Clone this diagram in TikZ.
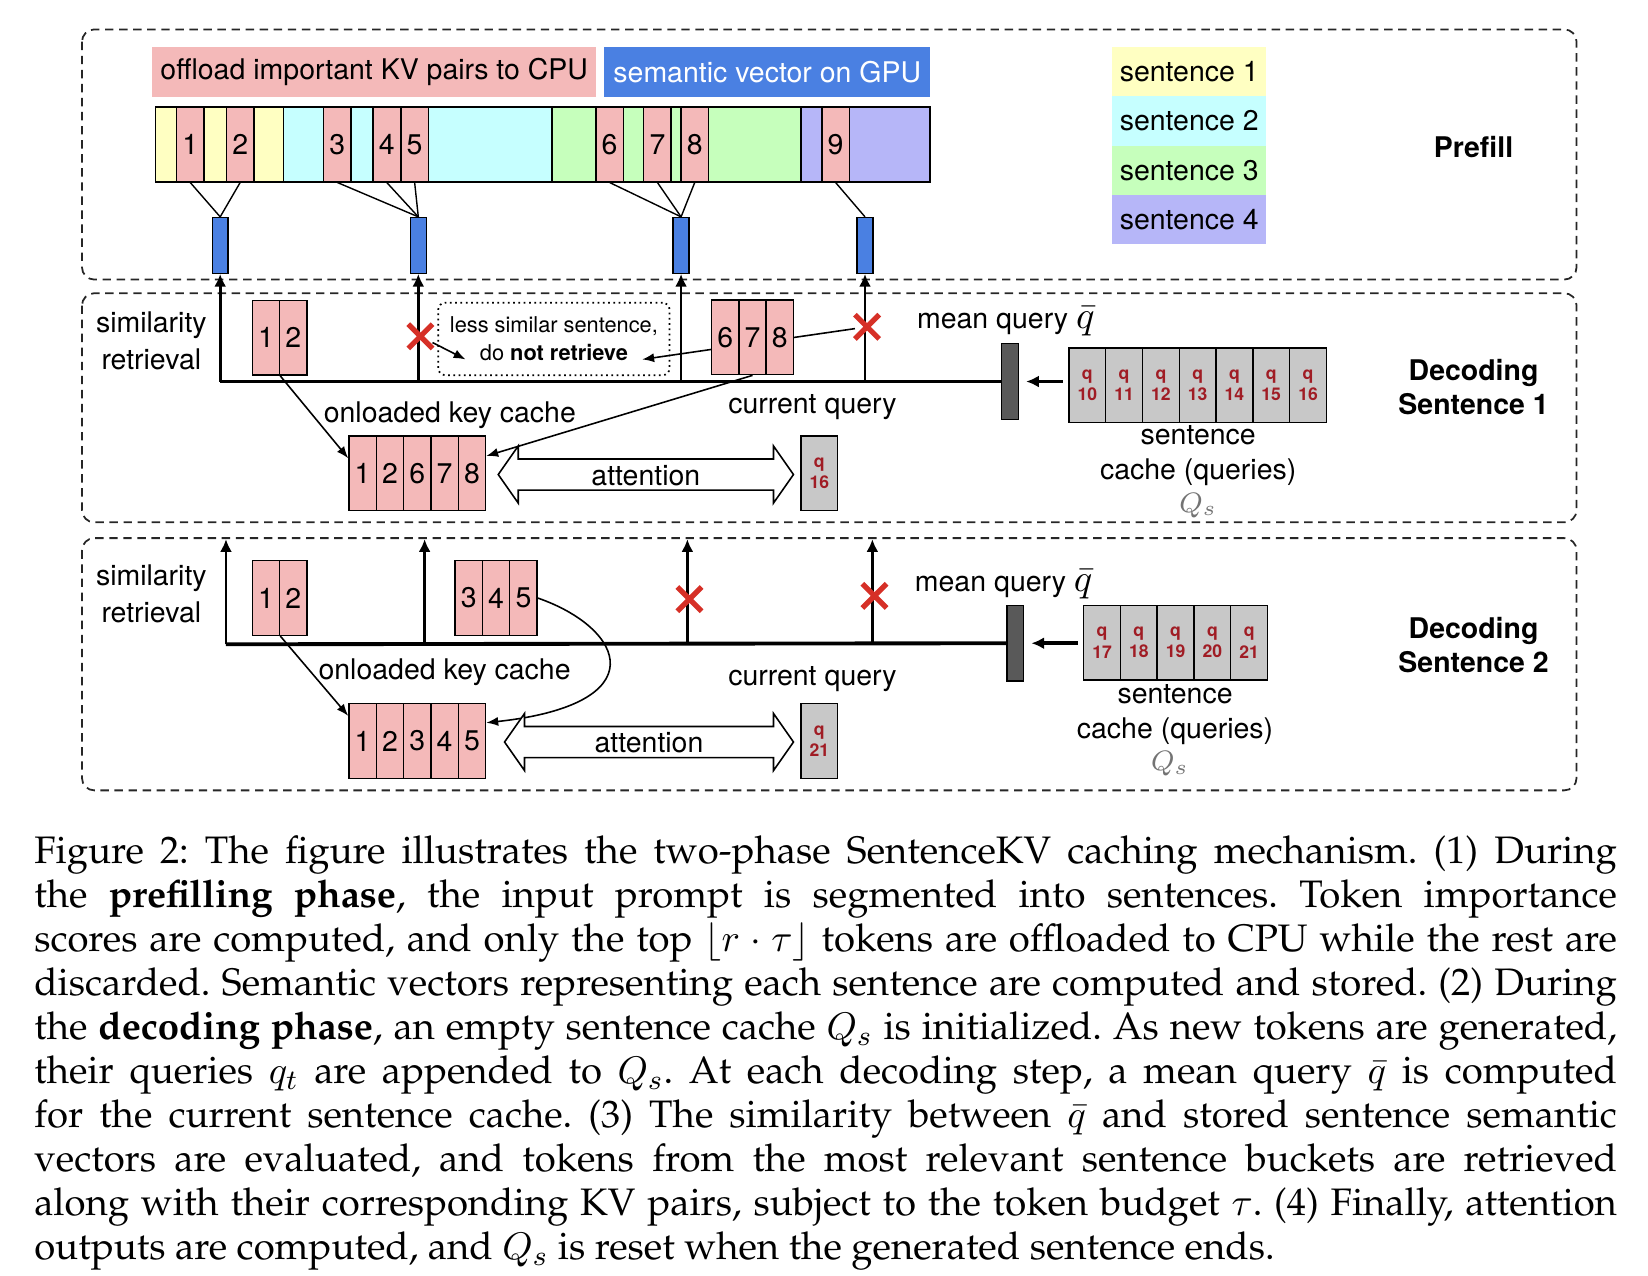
\documentclass[tikz,border=0pt]{standalone}
\usepackage[T1]{fontenc}
\usepackage{fontspec}
\setsansfont{TeX Gyre Heros}
\usepackage{amsmath}
\usepackage{tikz}
\usetikzlibrary{positioning, arrows.meta, calc, shapes.arrows, shapes.misc}

\definecolor{kvpink}{RGB}{244,185,185}
\definecolor{sentA}{RGB}{255,255,194}
\definecolor{sentB}{RGB}{198,255,255}
\definecolor{sentC}{RGB}{198,255,188}
\definecolor{sentD}{RGB}{182,182,248}
\definecolor{gpublue}{RGB}{74,128,226}
\definecolor{qgray}{RGB}{200,200,200}
\definecolor{qred}{RGB}{160,28,36}
\definecolor{xred}{RGB}{214,48,39}

\newcommand{\lblfont}{\fontsize{8.1}{9.8}\selectfont\sffamily}
\newcommand{\capfont}{\fontencoding{T1}\fontfamily{ppl}\fontsize{10.9}{12.5}\selectfont\frenchspacing\hyphenpenalty=10000}
\newcommand{\qtxt}[1]{q\\#1}
\newcommand{\qbar}{{\fontsize{10.5}{12}\selectfont$\bar{q}$}}

\tikzset{
  phase/.style={draw=black!85, line width=0.5pt, dash pattern=on 2.4pt off 1.6pt, rounded corners=3.5pt},
  lbl/.style={inner sep=0pt, font=\lblfont, align=center},
  headbox/.style={rectangle, minimum height=0.494cm, inner sep=0pt, font=\lblfont},
  legendrow/.style={rectangle, minimum width=1.545cm, minimum height=0.491cm, inner sep=0pt, font=\lblfont},
  token/.style={rectangle, draw=black, line width=0.4pt, fill=kvpink, minimum width=0.273cm, minimum height=0.746cm, inner sep=0pt, font=\lblfont},
  semvec/.style={rectangle, draw=black, line width=0.4pt, fill=gpublue, minimum width=0.158cm, minimum height=0.557cm, inner sep=0pt},
  qcell/.style={rectangle, draw=black, line width=0.4pt, fill=qgray, minimum width=0.368cm, minimum height=0.746cm, inner sep=0pt, align=center, text=qred, font=\fontsize{5}{6}\selectfont\sffamily\bfseries},
  meanbar/.style={rectangle, draw=black, fill=black!65, minimum width=0.168cm, minimum height=0.757cm, inner sep=0pt},
  redx/.style={cross out, draw=xred, line width=1.5pt, minimum size=0.19cm, inner sep=0pt},
  lessbox/.style={rectangle, draw, line width=0.5pt, dash pattern=on 0.5pt off 1pt, rounded corners=2pt, minimum width=2.312cm, minimum height=0.725cm, align=center, font=\fontsize{6.2}{8}\selectfont\sffamily},
  attn/.style={double arrow, draw, line width=0.45pt, fill=white, double arrow tip angle=110, double arrow head extend=0.13cm, minimum width=0.557cm, inner xsep=0pt, inner ysep=1.2pt, text height=6pt, text depth=0pt, font=\lblfont},
  phaselbl/.style={align=center, inner sep=0pt, font=\fontsize{8.1}{9.8}\selectfont\sffamily\bfseries},
  simlbl/.style={align=center, inner sep=0pt, font=\fontsize{8.1}{10.4}\selectfont\sffamily},
  qslbl/.style={inner sep=0pt, text=black!55, font=\fontsize{8.5}{10}\selectfont},
  arrowup/.style={line width=0.8pt, -{Latex[length=3.6pt, width=3.4pt]}},
  busline/.style={line width=1.1pt},
  arrowthin/.style={line width=0.45pt, -{Latex[length=3.4pt, width=2.6pt]}},
  arrowfat/.style={line width=1pt, -{Latex[length=3.6pt, width=3.4pt]}, shorten <=1.5pt, shorten >=2pt},
  captext/.style={anchor=north west, inner sep=0pt, text width=15.83cm, align=justify, font=\capfont}
}

\begin{document}
\begin{tikzpicture}[x=0.01051cm, y=-0.01051cm]
\useasboundingbox (0,0) rectangle (1568,1214);

% 1. Prefill phase
\draw[phase] (78,28) rectangle (1500,266);
\node[headbox, fill=kvpink, minimum width=4.435cm] (offload) at (356,68.5) {offload important KV pairs to CPU};
\node[headbox, fill=gpublue, text=white, minimum width=3.258cm] (ongpu) at (730,68.5) {semantic vector on GPU};

% sentence segments of the prompt
\foreach \c/\a/\b in {sentA/148/270, sentB/270/525, sentC/525/762, sentD/762/885}
  \draw[fill=\c, line width=0.4pt] (\a,102) rectangle (\b,173);

% important tokens
\foreach \n/\x in {1/181, 2/228.5, 3/321, 4/368, 5/394.5, 6/580, 7/625.5, 8/661, 9/795}
  \node[token] (t\n) at (\x,137.5) {\n};

% semantic vectors
\foreach \n/\x in {1/209.5, 2/398, 3/648, 4/823}
  \node[semvec] (v\n) at (\x,233.5) {};
\foreach \t/\v in {1/1, 2/1, 3/2, 4/2, 5/2, 6/3, 7/3, 8/3, 9/4}
  \draw[line width=0.4pt] (t\t.south) -- (v\v.north);

% legend
\foreach \n/\c/\y in {1/sentA/68.4, 2/sentB/115.1, 3/sentC/161.9, 4/sentD/208.6}
  \node[legendrow, fill=\c] (s\n) at (1131.5,\y) {sentence \n};

\node[phaselbl] (prefill) at (1402,140) {Prefill};

% 2. Decoding sentence 1
\draw[phase] (78,279) rectangle (1500,497);
\node[simlbl] (sim1) at (144,324.5) {similarity\\retrieval};
\node[phaselbl] (dec1) at (1402,368.5) {Decoding\\Sentence 1};

\node[meanbar] (m1) at (961,363) {};
\node[lbl] (mq1) at (957,306) {mean query \qbar};
\foreach \i [count=\k from 0] in {10,...,16}
  \node[qcell] (qa\i) at (1034.5+35*\k,366.5) {\qtxt{\i}};
\draw[arrowfat] (qa10.west |- m1.east) -- (m1.east);
\node[lbl] (sc1) at (1140,433.5) {sentence\\cache (queries)};
\node[qslbl] (qs1) at (1140,481) {$Q_s$};

% retrieval lines
\foreach \n/\x in {1/209.5, 2/398, 3/648, 4/823} {
  \coordinate (a\n) at (\x,363);
  \draw[arrowup] (a\n) -- (v\n.south);
}
\draw[busline] (a1) -- (m1.west);

\node[redx] (xa1) at (400,320) {};
\node[redx] (xa2) at (825,311) {};
\node[lessbox] (less) at (527,322.5) {less similar sentence,\\do \textbf{not retrieve}};
\coordinate (doend) at (443,342);
\coordinate (retend) at (611,342);
\draw[arrowthin] (xa1) -- (doend);
\draw[arrowthin] (xa2) -- (retend);

\foreach \lab [count=\k] in {1,2}
  \node[token] (ra\k) at (227+26*\k,321.5) {\lab};
\foreach \lab [count=\k] in {6,7,8}
  \node[token] (rb\k) at (664+26*\k,321) {\lab};

% onloaded keys and attention
\node[lbl] (onl1) at (428,395) {onloaded key cache};
\foreach \lab [count=\k] in {1,2,6,7,8}
  \node[token] (ka\k) at (319+26*\k,450.5) {\lab};
\draw[arrowthin] (ra1.south east) -- ($(ka1.north west)!0.3!(ka1.south west)$);
\draw[arrowthin] (rb2.south) -- ($(ka5.north east)!0.27!(ka5.south east)$);
\node[attn, minimum height=2.953cm] (att1) at (614.5,451.5) {attention};
\node[lbl] (cur1) at (773,387) {current query};
\node[qcell] (cq1) at (779.5,450.5) {\qtxt{16}};

% 3. Decoding sentence 2
\draw[phase] (78,512) rectangle (1500,752);
\node[simlbl] (sim2) at (144,565) {similarity\\retrieval};
\node[phaselbl] (dec2) at (1402,613.5) {Decoding\\Sentence 2};

\node[meanbar] (m2) at (966,612) {};
\node[lbl] (mq2) at (955,556) {mean query \qbar};
\foreach \i [count=\k from 0] in {17,...,21}
  \node[qcell] (qb\i) at (1048.5+35*\k,611.5) {\qtxt{\i}};
\draw[arrowfat] (qb17.west |- m2.east) -- (m2.east);
\node[lbl] (sc2) at (1118,680) {sentence\\cache (queries)};
\node[qslbl] (qs2) at (1113,727) {$Q_s$};

% retrieval lines
\foreach \n/\x in {1/215, 2/404, 3/654, 4/830} {
  \coordinate (bb\n) at (\x,613);
  \coordinate (bt\n) at (\x,513);
  \draw[arrowup] (bb\n) -- (bt\n);
}
\draw[busline] (bb1) -- (m2.west);
\node[redx] (xb1) at (656,570) {};
\node[redx] (xb2) at (832,567) {};

\foreach \lab [count=\k] in {1,2}
  \node[token] (rc\k) at (227+26*\k,569) {\lab};
\foreach \lab [count=\k] in {3,4,5}
  \node[token] (rd\k) at (420+26*\k,569) {\lab};

% onloaded keys and attention
\node[lbl] (onl2) at (423,640) {onloaded key cache};
\foreach \lab [count=\k] in {1,2,3,4,5}
  \node[token] (kb\k) at (319+26*\k,705) {\lab};
\draw[arrowthin] (rc1.south east) -- ($(kb1.north west)!0.17!(kb1.south west)$);
\draw[arrowthin] (rd3.east) .. controls (595,598) and (625,670) .. ($(kb5.north east)!0.26!(kb5.south east)$);
\node[attn, minimum height=2.890cm] (att2) at (617.5,706) {attention};
\node[lbl] (cur2) at (773,646) {current query};
\node[qcell] (cq2) at (779.5,705) {\qtxt{21}};

% 4. Caption
\node[captext] (cap) at (32,795) {Figure 2: The figure illustrates the two-phase SentenceKV caching mechanism. (1) During\linebreak
the \textbf{prefilling phase}, the input prompt is segmented into sentences. Token importance\linebreak
scores are computed, and only the top $\lfloor r\cdot\tau\rfloor$ tokens are offloaded to CPU while the rest are\linebreak
discarded. Semantic vectors representing each sentence are computed and stored. (2) During\linebreak
the \textbf{decoding phase}, an empty sentence cache $Q_s$ is initialized. As new tokens are generated,\linebreak
their queries $q_t$ are appended to $Q_s$. At each decoding step, a mean query $\bar{q}$ is computed\linebreak
for the current sentence cache. (3) The similarity between $\bar{q}$ and stored sentence semantic\linebreak
vectors are evaluated, and tokens from the most relevant sentence buckets are retrieved\linebreak
along with their corresponding KV pairs, subject to the token budget $\tau$. (4) Finally, attention\linebreak
outputs are computed, and $Q_s$ is reset when the generated sentence ends.};

\end{tikzpicture}
\end{document}
